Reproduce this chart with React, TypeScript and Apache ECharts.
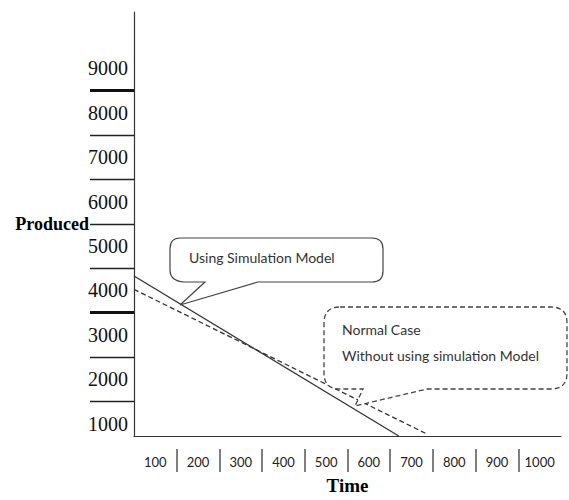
import React, { useEffect, useRef } from "react";
import * as echarts from "echarts";

// ---- data ----
const xLabels = ["100", "200", "300", "400", "500", "600", "700", "800", "900", "1000"];
const yLabels = ["1000", "2000", "3000", "4000", "5000", "6000", "7000", "8000", "9000"];
// solid line: "Using Simulation Model"
const simX = [0, 620];
const simY = [3690, 0];
// dashed line: "Normal Case / Without using simulation Model"
const normX = [0, 683];
const normY = [3380, 60];
const thickSeparators = [2, 3, 8];

const callout1 =
  "M 180 238 L 372 238 Q 383 238 383 249 L 383 271 Q 383 282 372 282 L 258 282 L 180 305 L 205 282 L 184 282 Q 170 281 170 270 L 170 249 Q 170 238 180 238 Z";
const callout2 =
  "M 340 307 L 551 307 Q 567 307 567 323 L 567 373 Q 567 389 551 389 L 427 389 L 355 406 L 363 389 L 340 389 Q 324 389 324 373 L 324 323 Q 324 307 340 307 Z";

echarts.graphic.registerShape("callout1", echarts.graphic.extendPath(callout1, {}));
echarts.graphic.registerShape("callout2", echarts.graphic.extendPath(callout2, {}));

export default function App() {
  const ref = useRef<HTMLDivElement>(null);
  useEffect(() => {
    if (!ref.current) return;
    const chart = echarts.init(ref.current, null, { renderer: "svg" });
    const pair = (xs: number[], ys: number[]) => xs.map((x, i) => [x, ys[i]]);
    chart.setOption({
      animation: false,
      backgroundColor: "#fff",
      grid: [
        { left: 134, top: 12, width: 427, height: 434 },
        { left: 90, top: 46, width: 44, height: 400 },
        { left: 134, top: 449, width: 427, height: 23 },
      ],
      xAxis: [
        {
          type: "value",
          gridIndex: 0,
          min: 0,
          max: 1000,
          axisLine: { show: true, lineStyle: { color: "#333", width: 1.2 } },
          axisTick: { show: false },
          axisLabel: { show: false },
          splitLine: { show: false },
          name: "Time",
          nameLocation: "middle",
          nameGap: 40,
          nameTextStyle: {
            fontFamily: "Liberation Serif",
            fontWeight: "bold",
            fontSize: 19,
            color: "#000",
          },
        },
        { type: "value", gridIndex: 1, show: false },
        {
          type: "category",
          gridIndex: 2,
          data: xLabels,
          axisLine: { show: false },
          axisTick: { show: false },
          axisLabel: {
            inside: true,
            margin: 4,
            interval: 0,
            fontFamily: "Lato",
            fontSize: 13,
            color: "#222",
          },
          splitLine: {
            show: true,
            showMinLine: false,
            showMaxLine: false,
            lineStyle: { color: "#555", width: 1.5 },
          },
        },
      ],
      yAxis: [
        {
          type: "value",
          gridIndex: 0,
          min: 0,
          max: 9775,
          axisLine: { show: true, lineStyle: { color: "#333", width: 1.2 } },
          axisTick: { show: false },
          axisLabel: { show: false },
          splitLine: { show: false },
          name: "Produced",
          nameLocation: "middle",
          nameRotate: 0,
          nameGap: 45,
          nameTextStyle: {
            fontFamily: "Liberation Serif",
            fontWeight: "bold",
            fontSize: 18,
            color: "#000",
            padding: [0, 0, 10, 0],
          },
        },
        {
          type: "category",
          gridIndex: 1,
          data: yLabels,
          position: "right",
          axisLine: { show: false },
          axisTick: { show: false },
          axisLabel: {
            inside: true,
            margin: 6,
            interval: 0,
            fontFamily: "Liberation Serif",
            fontSize: 20,
            color: "#111",
          },
          splitLine: {
            show: true,
            showMinLine: false,
            showMaxLine: false,
            lineStyle: { color: "#222", width: 1.3 },
          },
        },
        {
          type: "category",
          gridIndex: 1,
          data: yLabels,
          position: "right",
          axisLine: { show: false },
          axisTick: { show: false },
          axisLabel: { show: false },
          splitLine: {
            show: true,
            interval: (i: number) => thickSeparators.includes(i),
            showMinLine: false,
            showMaxLine: false,
            lineStyle: { color: "#111", width: 2.8 },
          },
        },
        { type: "value", gridIndex: 2, show: false },
      ],
      series: [
        {
          name: "Using Simulation Model",
          type: "line",
          xAxisIndex: 0,
          yAxisIndex: 0,
          data: pair(simX, simY),
          symbol: "none",
          lineStyle: { color: "#333", width: 1.3, type: "solid" },
        },
        {
          name: "Normal Case",
          type: "line",
          xAxisIndex: 0,
          yAxisIndex: 0,
          data: pair(normX, normY),
          symbol: "none",
          lineStyle: { color: "#333", width: 1.3, type: [5, 3] },
        },
      ],
      graphic: [
        {
          type: "callout1",
          x: 0,
          y: 0,
          z: 10,
          style: { fill: "#fff", stroke: "#444", lineWidth: 1.2 },
        },
        {
          type: "text",
          x: 189,
          y: 257,
          z: 11,
          style: {
            text: "Using Simulation Model",
            fill: "#333",
            fontFamily: "Lato",
            fontSize: 14,
            verticalAlign: "middle",
          },
        },
        {
          type: "callout2",
          x: 0,
          y: 0,
          z: 10,
          style: { fill: "#fff", stroke: "#444", lineWidth: 1.3, lineDash: [5, 3] },
        },
        {
          type: "text",
          x: 342,
          y: 329,
          z: 11,
          style: {
            text: "Normal Case",
            fill: "#333",
            fontFamily: "Lato",
            fontSize: 14,
            verticalAlign: "middle",
          },
        },
        {
          type: "text",
          x: 342,
          y: 355,
          z: 11,
          style: {
            text: "Without using simulation Model",
            fill: "#333",
            fontFamily: "Lato",
            fontSize: 14,
            verticalAlign: "middle",
          },
        },
      ],
    });
    return () => chart.dispose();
  }, []);
  return (
    <div
      ref={ref}
      style={{ position: "fixed", left: 0, top: 0, width: 569, height: 500 }}
    />
  );
}
